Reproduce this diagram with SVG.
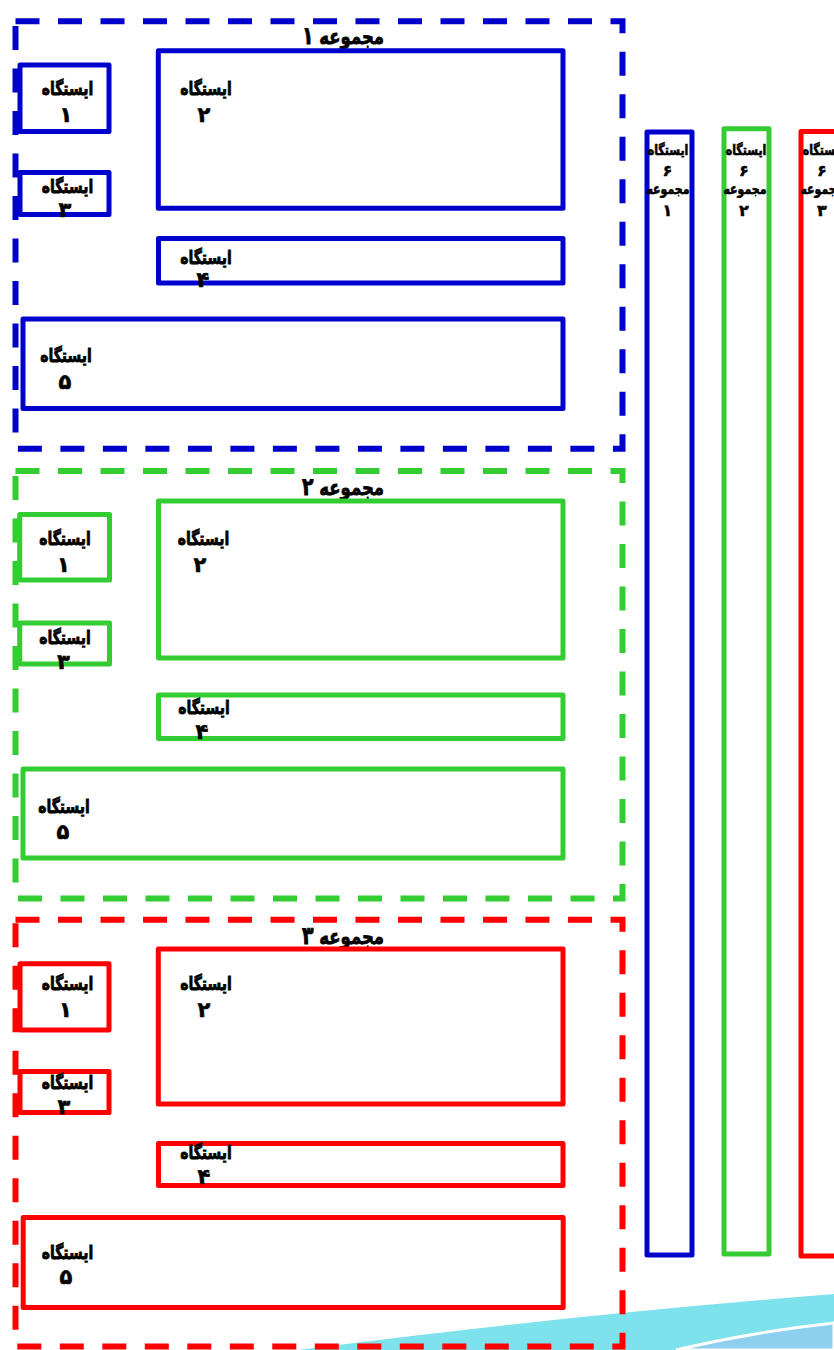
<svg xmlns="http://www.w3.org/2000/svg" width="834" height="1350" viewBox="0 0 834 1350">
<style>
.grp{fill:none;stroke-width:6;stroke-dasharray:24 18.5}
.box{fill:none;stroke-width:5;stroke-linejoin:round}
.b{stroke:#0000cc}.g{stroke:#33cc33}.r{stroke:#ff0000}
text{font-family:"DejaVu Sans","Noto Sans",sans-serif;font-weight:bold;fill:#000;stroke:#000;stroke-width:0.6;text-anchor:middle;direction:rtl}
.lbl{font-size:14px}
.dg{font-size:21px}
.ttl{font-size:16.5px}
.td{font-size:19px}
.col{font-size:11px;stroke-width:0.5}
.cd{font-size:16px;stroke-width:0.5}
</style>
<rect width="834" height="1350" fill="#fff"/>
<g id="decoration">
<path d="M298 1350 Q560 1316 834 1294 L834 1350 Z" fill="#7ee2ec"/>
<path d="M676 1350 Q752 1332 834 1323 L834 1350 Z" fill="#8dcfee" stroke="#fff" stroke-width="3"/>
</g>
<g id="group1">
<rect class="grp b" x="15.5" y="21.3" width="607" height="427.4"/>
<text class="ttl" transform="translate(343 44) scale(1 1.3)">مجموعه <tspan class="td">۱</tspan></text>
<g id="g1s1"><rect class="box b" x="20" y="65" width="89" height="66.5"/><text class="lbl" transform="translate(67.5 95) scale(1 1.3)">ایستگاه</text><text class="dg" x="66" y="122">۱</text></g>
<g id="g1s2"><rect class="box b" x="158.3" y="50.8" width="404.7" height="157.5"/><text class="lbl" transform="translate(206 95) scale(1 1.3)">ایستگاه</text><text class="dg" x="204" y="122">۲</text></g>
<g id="g1s3"><rect class="box b" x="20" y="172.5" width="89" height="42"/><text class="lbl" transform="translate(67.5 193) scale(1 1.3)">ایستگاه</text><text class="dg" x="65" y="217">۳</text></g>
<g id="g1s4"><rect class="box b" x="158.5" y="238.5" width="404.5" height="44.5"/><text class="lbl" transform="translate(206 264) scale(1 1.3)">ایستگاه</text><text class="dg" x="203" y="287">۴</text></g>
<g id="g1s5"><rect class="box b" x="23" y="319" width="540" height="89.5"/><text class="lbl" transform="translate(66 362) scale(1 1.3)">ایستگاه</text><text class="dg" x="65" y="389">۵</text></g>
</g>
<g id="group2">
<rect class="grp g" x="15.5" y="471" width="607" height="427.5"/>
<text class="ttl" transform="translate(343 495) scale(1 1.3)">مجموعه <tspan class="td">۲</tspan></text>
<g id="g2s1"><rect class="box g" x="19.7" y="514.5" width="89.8" height="65.5"/><text class="lbl" transform="translate(65 545) scale(1 1.3)">ایستگاه</text><text class="dg" x="63.5" y="572">۱</text></g>
<g id="g2s2"><rect class="box g" x="158.5" y="501" width="404.5" height="157"/><text class="lbl" transform="translate(203.5 545) scale(1 1.3)">ایستگاه</text><text class="dg" x="200" y="572">۲</text></g>
<g id="g2s3"><rect class="box g" x="19.7" y="623" width="89.8" height="41"/><text class="lbl" transform="translate(65 644) scale(1 1.3)">ایستگاه</text><text class="dg" x="63.5" y="669">۳</text></g>
<g id="g2s4"><rect class="box g" x="158.5" y="695" width="404.5" height="43.5"/><text class="lbl" transform="translate(204 714) scale(1 1.3)">ایستگاه</text><text class="dg" x="202" y="739">۴</text></g>
<g id="g2s5"><rect class="box g" x="23" y="769" width="540" height="89"/><text class="lbl" transform="translate(64 813) scale(1 1.3)">ایستگاه</text><text class="dg" x="63" y="839">۵</text></g>
</g>
<g id="group3">
<rect class="grp r" x="15.5" y="919.7" width="607" height="426.8"/>
<text class="ttl" transform="translate(343 944) scale(1 1.3)">مجموعه <tspan class="td">۳</tspan></text>
<g id="g3s1"><rect class="box r" x="20" y="963.8" width="89" height="66.2"/><text class="lbl" transform="translate(67.5 990) scale(1 1.3)">ایستگاه</text><text class="dg" x="65.5" y="1017">۱</text></g>
<g id="g3s2"><rect class="box r" x="158.3" y="949" width="404.7" height="155"/><text class="lbl" transform="translate(206 990) scale(1 1.3)">ایستگاه</text><text class="dg" x="204" y="1017">۲</text></g>
<g id="g3s3"><rect class="box r" x="20" y="1071.5" width="89" height="41"/><text class="lbl" transform="translate(67.5 1089) scale(1 1.3)">ایستگاه</text><text class="dg" x="64" y="1114">۳</text></g>
<g id="g3s4"><rect class="box r" x="158.5" y="1143.5" width="404.5" height="42"/><text class="lbl" transform="translate(206 1159) scale(1 1.3)">ایستگاه</text><text class="dg" x="204" y="1184">۴</text></g>
<g id="g3s5"><rect class="box r" x="23.2" y="1217.5" width="540" height="90"/><text class="lbl" transform="translate(67.5 1259) scale(1 1.3)">ایستگاه</text><text class="dg" x="66" y="1284">۵</text></g>
</g>
<g id="station6-1"><rect class="box b" x="647" y="132" width="45" height="1123"/><text class="col" transform="translate(668 155) scale(1 1.3)">ایستگاه</text><text class="cd" x="667.5" y="176">۶</text><text class="col" transform="translate(668 194) scale(1 1.3)">مجموعه</text><text class="cd" x="667.5" y="216">۱</text></g>
<g id="station6-2"><rect class="box g" x="724" y="128.7" width="45" height="1125.3"/><text class="col" transform="translate(746 155) scale(1 1.3)">ایستگاه</text><text class="cd" x="744" y="176">۶</text><text class="col" transform="translate(745 194) scale(1 1.3)">مجموعه</text><text class="cd" x="744" y="216">۲</text></g>
<g id="station6-3"><rect class="box r" x="801" y="131.5" width="60" height="1124.5"/><text class="col" transform="translate(823 155) scale(1 1.3)">ایستگاه</text><text class="cd" x="822" y="176">۶</text><text class="col" transform="translate(822 194) scale(1 1.3)">مجموعه</text><text class="cd" x="822" y="216">۳</text></g>
<g id="connectors"/>
</svg>
